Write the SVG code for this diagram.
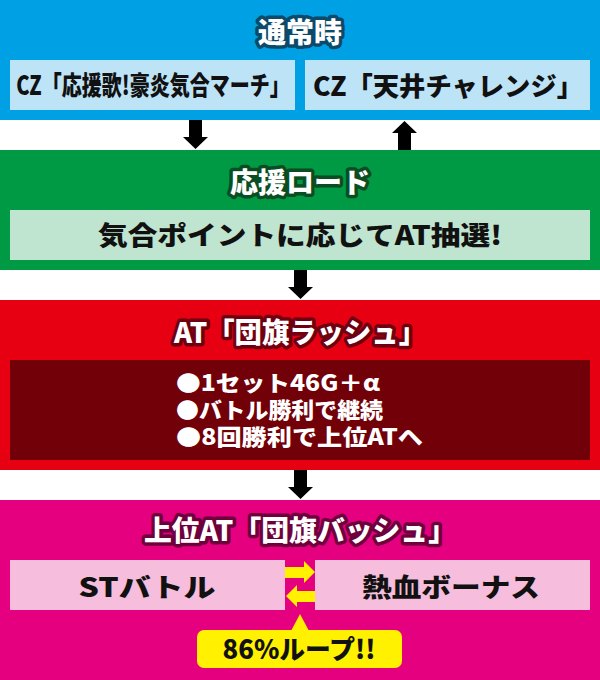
<svg xmlns="http://www.w3.org/2000/svg" width="600" height="680" viewBox="0 0 600 680">
<style>
text{font-family:"Noto Sans CJK JP","Noto Sans",sans-serif;font-weight:900;text-anchor:middle}
.title{fill:#fff;font-size:28px;stroke-width:7px;stroke-linejoin:round;paint-order:stroke}
.box{font-size:26px;fill:#111}
.bul{fill:#fff;font-size:22px;text-anchor:start}
.arr{fill:#000}
.yarr{fill:#fff100}
</style>
<rect width="600" height="680" fill="#fff"/>
<g id="normal">
<rect x="0" y="0" width="600" height="120" fill="#00a0e4"/>
<text class="title" x="300" y="43" stroke="#0b4a6a">通常時</text>
</g>
<g id="cz-march">
<rect x="10" y="60" width="285" height="50" fill="#bde3f7"/>
<text class="box" transform="translate(153,95) scale(0.77,1)" x="0" y="0" font-size="25">CZ「応援歌!豪炎気合マーチ」</text>
</g>
<g id="cz-tenjo">
<rect x="305" y="60" width="285" height="50" fill="#bde3f7"/>
<text class="box" x="448" y="96" textLength="270" lengthAdjust="spacingAndGlyphs">CZ「天井チャレンジ」</text>
</g>
<g id="ouen-road">
<rect x="0" y="150" width="600" height="120" fill="#009a44"/>
<text class="title" x="300" y="193" stroke="#0b4d22">応援ロード</text>
<rect x="10" y="210" width="580" height="50" fill="#bfe4cf"/>
<text class="box" x="300" y="245" font-size="28" textLength="404" lengthAdjust="spacingAndGlyphs">気合ポイントに応じてAT抽選!</text>
</g>
<g id="at-rush">
<rect x="0" y="300" width="600" height="170" fill="#e60012"/>
<text class="title" x="300" y="343" stroke="#6f0010" textLength="252" lengthAdjust="spacingAndGlyphs">AT「団旗ラッシュ」</text>
<rect x="10" y="360" width="580" height="100" fill="#720008"/>
<text class="bul"><tspan x="176" y="391" textLength="204" lengthAdjust="spacingAndGlyphs">●1セット46G＋α</tspan><tspan x="176" y="418" textLength="207" lengthAdjust="spacingAndGlyphs">●バトル勝利で継続</tspan><tspan x="176" y="445" textLength="247" lengthAdjust="spacingAndGlyphs">●8回勝利で上位ATへ</tspan></text>
</g>
<g id="upper-at">
<rect x="0" y="500" width="600" height="180" fill="#e4007f"/>
<text class="title" x="300" y="541" stroke="#6e003c" textLength="312" lengthAdjust="spacingAndGlyphs">上位AT「団旗バッシュ」</text>
</g>
<g id="st-battle">
<rect x="10" y="560" width="275" height="50" fill="#f6bddc"/>
<text class="box" x="147" y="597" font-size="31" textLength="137" lengthAdjust="spacingAndGlyphs">STバトル</text>
</g>
<g id="nekketsu-bonus">
<rect x="315" y="560" width="275" height="50" fill="#f6bddc"/>
<text class="box" x="451" y="597" font-size="30" textLength="178" lengthAdjust="spacingAndGlyphs">熱血ボーナス</text>
</g>
<g id="loop-callout">
<polygon points="300,614 291,631 309,631" fill="#fff100"/>
<rect x="197" y="630" width="205" height="38" rx="7" fill="#fff100"/>
<text class="box" x="299" y="659" font-size="24" textLength="153" lengthAdjust="spacingAndGlyphs">86%ループ!!</text>
</g>
<g id="connectors">
<polygon class="arr" points="189,120 202,120 202,137 208,137 195.5,149 183,137 189,137"/>
<polygon class="arr" points="398,150 411,150 411,133 417,133 404.5,121 392,133 398,133"/>
<polygon class="arr" points="294,270 307,270 307,287 313,287 300.5,299 288,287 294,287"/>
<polygon class="arr" points="294,470 307,470 307,487 313,487 300.5,499 288,487 294,487"/>
<polygon class="yarr" points="285,567 304,567 304,561 315,572 304,583 304,578 285,578"/>
<polygon class="yarr" points="315,591 297,591 297,585 286,596 297,607 297,602 315,602"/>
</g>
</svg>
